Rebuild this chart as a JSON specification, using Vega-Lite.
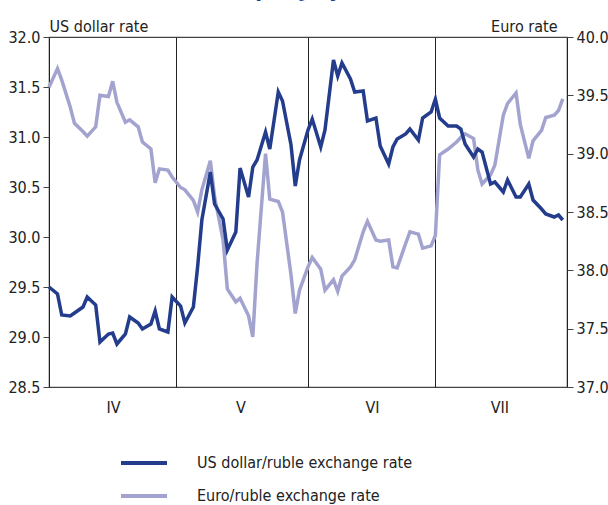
{
  "$schema": "https://vega.github.io/schema/vega-lite/v6.json",
  "width": 518,
  "height": 350,
  "autosize": {"type": "none"},
  "padding": {"left": 49, "top": 37, "right": 41, "bottom": 118},
  "background": "white",
  "config": {
    "font": "DejaVu Sans Condensed, Liberation Sans, sans-serif",
    "view": {"stroke": "#444", "strokeWidth": 1.2},
    "axis": {"labelFontSize": 16, "labelColor": "#222", "titleFontSize": 16, "titleFontWeight": "normal", "titleColor": "#222", "tickColor": "#444", "labelFont": "DejaVu Sans Condensed, Liberation Sans, sans-serif", "titleFont": "DejaVu Sans Condensed, Liberation Sans, sans-serif"}
  },
  "title": {"text": "in April-July 2010", "fontSize": 22, "fontWeight": "bold", "color": "#233c8c", "font": "DejaVu Sans Condensed, Liberation Sans, sans-serif", "anchor": "middle", "offset": 0, "baseline": "alphabetic", "dy": 1},
  "data": {"values": [
    {"date": "2010-04-01", "usd": 29.50, "eur": 39.57},
    {"date": "2010-04-03", "usd": 29.43, "eur": 39.73},
    {"date": "2010-04-04", "usd": 29.22, "eur": 39.63},
    {"date": "2010-04-06", "usd": 29.21, "eur": 39.40},
    {"date": "2010-04-07", "usd": 29.24, "eur": 39.26},
    {"date": "2010-04-09", "usd": 29.30, "eur": 39.19},
    {"date": "2010-04-10", "usd": 29.40, "eur": 39.15},
    {"date": "2010-04-12", "usd": 29.32, "eur": 39.23},
    {"date": "2010-04-13", "usd": 28.95, "eur": 39.50},
    {"date": "2010-04-15", "usd": 29.03, "eur": 39.49},
    {"date": "2010-04-16", "usd": 29.04, "eur": 39.62},
    {"date": "2010-04-17", "usd": 28.93, "eur": 39.44},
    {"date": "2010-04-19", "usd": 29.03, "eur": 39.27},
    {"date": "2010-04-20", "usd": 29.20, "eur": 39.29},
    {"date": "2010-04-22", "usd": 29.14, "eur": 39.23},
    {"date": "2010-04-23", "usd": 29.08, "eur": 39.10},
    {"date": "2010-04-25", "usd": 29.13, "eur": 39.04},
    {"date": "2010-04-26", "usd": 29.26, "eur": 38.75},
    {"date": "2010-04-27", "usd": 29.08, "eur": 38.87},
    {"date": "2010-04-29", "usd": 29.05, "eur": 38.86},
    {"date": "2010-04-30", "usd": 29.40, "eur": 38.80},
    {"date": "2010-05-02", "usd": 29.31, "eur": 38.71},
    {"date": "2010-05-03", "usd": 29.14, "eur": 38.69},
    {"date": "2010-05-05", "usd": 29.30, "eur": 38.60},
    {"date": "2010-05-06", "usd": 29.70, "eur": 38.50},
    {"date": "2010-05-07", "usd": 30.17, "eur": 38.69},
    {"date": "2010-05-09", "usd": 30.65, "eur": 38.94},
    {"date": "2010-05-10", "usd": 30.33, "eur": 38.63},
    {"date": "2010-05-12", "usd": 30.18, "eur": 38.26},
    {"date": "2010-05-13", "usd": 29.87, "eur": 37.84},
    {"date": "2010-05-15", "usd": 30.05, "eur": 37.73},
    {"date": "2010-05-16", "usd": 30.69, "eur": 37.76},
    {"date": "2010-05-18", "usd": 30.40, "eur": 37.61},
    {"date": "2010-05-19", "usd": 30.70, "eur": 37.43},
    {"date": "2010-05-20", "usd": 30.77, "eur": 38.06},
    {"date": "2010-05-22", "usd": 31.05, "eur": 39.00},
    {"date": "2010-05-23", "usd": 30.88, "eur": 38.61},
    {"date": "2010-05-25", "usd": 31.45, "eur": 38.59},
    {"date": "2010-05-26", "usd": 31.36, "eur": 38.50},
    {"date": "2010-05-28", "usd": 30.92, "eur": 37.96},
    {"date": "2010-05-29", "usd": 30.51, "eur": 37.63},
    {"date": "2010-05-30", "usd": 30.77, "eur": 37.83},
    {"date": "2010-06-01", "usd": 31.07, "eur": 38.03},
    {"date": "2010-06-02", "usd": 31.18, "eur": 38.11},
    {"date": "2010-06-04", "usd": 30.90, "eur": 38.01},
    {"date": "2010-06-05", "usd": 31.07, "eur": 37.83},
    {"date": "2010-06-07", "usd": 31.77, "eur": 37.92},
    {"date": "2010-06-08", "usd": 31.61, "eur": 37.82},
    {"date": "2010-06-09", "usd": 31.74, "eur": 37.95},
    {"date": "2010-06-11", "usd": 31.58, "eur": 38.03},
    {"date": "2010-06-12", "usd": 31.45, "eur": 38.09},
    {"date": "2010-06-14", "usd": 31.46, "eur": 38.33},
    {"date": "2010-06-15", "usd": 31.16, "eur": 38.42},
    {"date": "2010-06-17", "usd": 31.19, "eur": 38.26},
    {"date": "2010-06-18", "usd": 30.91, "eur": 38.25},
    {"date": "2010-06-20", "usd": 30.73, "eur": 38.26},
    {"date": "2010-06-21", "usd": 30.90, "eur": 38.03},
    {"date": "2010-06-22", "usd": 30.98, "eur": 38.02},
    {"date": "2010-06-24", "usd": 31.03, "eur": 38.23},
    {"date": "2010-06-25", "usd": 31.08, "eur": 38.33},
    {"date": "2010-06-27", "usd": 30.97, "eur": 38.31},
    {"date": "2010-06-28", "usd": 31.19, "eur": 38.19},
    {"date": "2010-06-30", "usd": 31.25, "eur": 38.21},
    {"date": "2010-07-01", "usd": 31.38, "eur": 38.30},
    {"date": "2010-07-02", "usd": 31.19, "eur": 38.99},
    {"date": "2010-07-04", "usd": 31.11, "eur": 39.04},
    {"date": "2010-07-06", "usd": 31.11, "eur": 39.10},
    {"date": "2010-07-07", "usd": 31.08, "eur": 39.14},
    {"date": "2010-07-08", "usd": 30.93, "eur": 39.17},
    {"date": "2010-07-10", "usd": 30.80, "eur": 39.13},
    {"date": "2010-07-11", "usd": 30.88, "eur": 38.86},
    {"date": "2010-07-12", "usd": 30.85, "eur": 38.74},
    {"date": "2010-07-14", "usd": 30.53, "eur": 38.82},
    {"date": "2010-07-15", "usd": 30.55, "eur": 38.90},
    {"date": "2010-07-17", "usd": 30.45, "eur": 39.33},
    {"date": "2010-07-18", "usd": 30.57, "eur": 39.43},
    {"date": "2010-07-20", "usd": 30.40, "eur": 39.52},
    {"date": "2010-07-21", "usd": 30.40, "eur": 39.25},
    {"date": "2010-07-23", "usd": 30.53, "eur": 38.96},
    {"date": "2010-07-24", "usd": 30.37, "eur": 39.11},
    {"date": "2010-07-26", "usd": 30.28, "eur": 39.20},
    {"date": "2010-07-27", "usd": 30.23, "eur": 39.31},
    {"date": "2010-07-29", "usd": 30.20, "eur": 39.33},
    {"date": "2010-07-30", "usd": 30.22, "eur": 39.37},
    {"date": "2010-07-31", "usd": 30.17, "eur": 39.47}
  ]},
  "encoding": {
    "x": {
      "field": "date", "type": "temporal",
      "scale": {"type": "utc", "domain": [{"year": 2010, "month": 4, "date": 1, "utc": true}, {"year": 2010, "month": 8, "date": 1, "utc": true}]},
      "axis": {
        "title": null,
        "values": [
          {"year": 2010, "month": 4, "date": 1, "utc": true},
          {"year": 2010, "month": 5, "date": 1, "utc": true},
          {"year": 2010, "month": 6, "date": 1, "utc": true},
          {"year": 2010, "month": 7, "date": 1, "utc": true},
          {"year": 2010, "month": 8, "date": 1, "utc": true}
        ],
        "labelExpr": "['','','','IV','V','VI','VII',''][utcmonth(datum.value)]",
        "labelOffset": 64, "labelAlign": "center", "labelPadding": 12,
        "labelOverlap": false, "labelBound": false, "labelFlush": false,
        "ticks": false, "domain": false,
        "grid": true, "gridColor": "#222", "gridWidth": 1, "gridOpacity": 1
      }
    }
  },
  "layer": [
    {
      "mark": {"type": "line", "strokeWidth": 3.5, "strokeJoin": "miter"},
      "encoding": {
        "y": {"field": "eur", "type": "quantitative", "scale": {"domain": [37, 40], "nice": false, "zero": false},
          "axis": {"orient": "right", "title": "Euro rate", "titleAngle": 0, "titleAlign": "right", "titleBaseline": "alphabetic", "titleX": -10, "titleY": -6,
            "values": [37, 37.5, 38, 38.5, 39, 39.5, 40], "format": ".1f", "tickSize": 6, "labelPadding": 3, "domain": false, "grid": false}},
        "color": {"datum": "Euro/ruble exchange rate", "type": "nominal"}
      }
    },
    {
      "mark": {"type": "line", "strokeWidth": 3.5, "strokeJoin": "miter"},
      "encoding": {
        "y": {"field": "usd", "type": "quantitative", "scale": {"domain": [28.5, 32], "nice": false, "zero": false},
          "axis": {"orient": "left", "title": "US dollar rate", "titleAngle": 0, "titleAlign": "left", "titleBaseline": "alphabetic", "titleX": 0, "titleY": -6,
            "values": [28.5, 29, 29.5, 30, 30.5, 31, 31.5, 32], "format": ".1f", "tickSize": 6, "labelPadding": 3, "domain": false, "grid": false}},
        "color": {"datum": "US dollar/ruble exchange rate", "type": "nominal",
          "scale": {"domain": ["US dollar/ruble exchange rate", "Euro/ruble exchange rate"], "range": ["#233c8c", "#a3a3cf"]},
          "legend": {"orient": "none", "legendX": 70, "legendY": 401, "direction": "vertical", "title": null,
            "symbolType": "stroke", "symbolSize": 2116, "symbolStrokeWidth": 4, "labelFontSize": 16, "labelColor": "#222", "labelLimit": 400,
            "labelFont": "DejaVu Sans Condensed, Liberation Sans, sans-serif", "labelOffset": 28, "rowPadding": -24}}
      }
    }
  ],
  "resolve": {"scale": {"y": "independent"}}
}
